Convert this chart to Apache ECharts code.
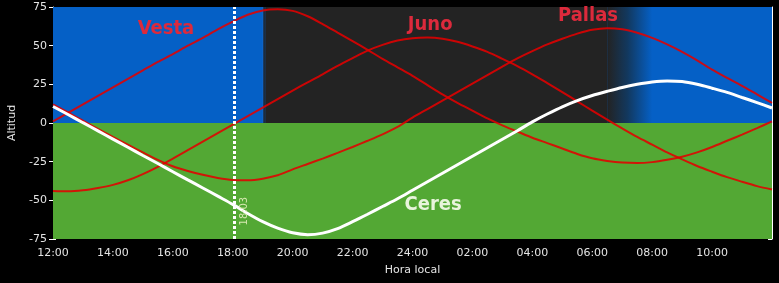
<!DOCTYPE html>
<html>
<head>
<meta charset="utf-8">
<script src="https://cdn.jsdelivr.net/npm/echarts@6/dist/echarts.min.js"></script>
<style>
html,body{margin:0;padding:0;background:#000;}
#chart{width:779px;height:283px;}
</style>
</head>
<body>
<div id="chart"></div>
<script>
// ---- data (hours after local noon; 24 = midnight), read every half hour ----
const hours  = [12,12.5,13,13.5,14,14.5,15,15.5,16,16.5,17,17.5,18,18.5,19,19.5,20,20.5,21,21.5,22,22.5,23,23.5,24,
                24.5,25,25.5,26,26.5,27,27.5,28,28.5,29,29.5,30,30.5,31,31.5,32,32.5,33,33.5,34,34.5,35,35.5,36];
const vesta  = [1,6.5,12,17.5,23,28.5,34,39.5,44.5,50,55,60.5,65.5,70,72.8,73.5,72.5,69,64,58.5,53,47.3,41.5,36,30.5,
                24.5,18.5,13,8,3,-1.5,-5.5,-9.5,-13,-16.5,-20,-22.8,-24.5,-25.6,-25.9,-25.3,-23.8,-21.8,-19,-15.5,-11.5,-7.5,-3.3,1];
const juno   = [-44,-44.2,-43.5,-42,-40,-37,-33,-28.3,-23,-17.5,-12,-6.5,-1,4.5,10,15.5,21,26.3,31.5,37,42,46.8,50.5,53.3,54.8,
                55.2,54.5,52.5,49.5,46,41.5,36.8,31.5,25.8,20,14,8,2.2,-3.5,-9,-14,-19,-23.5,-27.8,-31.5,-35,-38,-40.8,-43];
const pallas = [12,6.8,1.5,-3.8,-9,-14,-19,-23.8,-28,-31,-33.5,-35.5,-36.8,-37,-36,-33.8,-30,-26.5,-23,-19.3,-15.5,-11.5,-7.3,-2.5,3.5,
                9,14.5,20,25.5,31,36.5,41.8,46.5,50.8,54.5,57.8,60.3,61.3,60.6,58.3,55,50.8,46,40.5,34.5,29.2,24,18.5,13];
const ceres  = [10.7,5.5,0.2,-5.1,-10.4,-15.7,-21,-26.2,-31.5,-36.8,-42,-47.3,-52.6,-58.5,-63.8,-68,-71,-72.2,-71.2,-68.3,-63.8,-59,-54,-49,-43.5,
                -38,-32.5,-27,-21.5,-16,-10.5,-5,0.7,5.8,10.5,14.5,17.8,20.5,23,25,26.5,27.2,26.8,25,22.5,19.8,16.5,13.2,9.7];
const xTickLabels = ['12:00','14:00','16:00','18:00','20:00','22:00','24:00','02:00','04:00','06:00','08:00','10:00'];
const markerTime = 18.05;
const markerLabel = '18:03';
const duskStart = 19.0, nightStart = 19.1, nightEnd = 30.5, dawnEnd = 32.0;

const pairs = arr => hours.map((h, i) => [h, arr[i]]);

const BLUE = '#0560c6', GREEN = '#53a834', DARK = '#232323';
const RED = 'rgba(226,0,0,0.88)';
const TXT = '#e4e4e4';
const FONT = 'DejaVu Sans';
const NAMEFONT = "'DejaVu Sans Condensed', 'DejaVu Sans'";

const chart = echarts.init(document.getElementById('chart'), null, {renderer: 'canvas'});

function nameLabel(text, color) {
  return {
    show: true, formatter: text, position: 'inside', color: color,
    fontFamily: NAMEFONT, fontWeight: 'bold', fontSize: 20
  };
}

const redLine = (name, data, labelCoord) => ({
  name, type: 'line', data: pairs(data), smooth: 0.3, showSymbol: false, z: 3,
  lineStyle: {color: RED, width: 2},
  silent: true,
  markPoint: {
    silent: true, symbol: 'circle', symbolSize: 0,
    data: [{coord: labelCoord, label: nameLabel(name, '#dc2a3c')}]
  }
});

const option = {
  backgroundColor: '#000',
  animation: false,
  grid: {left: 53, right: 7, top: 7, bottom: 44, outerBoundsMode: 'none', containLabel: false},
  xAxis: [
    {
      type: 'value', min: 12, max: 36, interval: 2, position: 'bottom',
      axisLine: {lineStyle: {color: '#fff', width: 1}},
      axisTick: {inside: true, length: 6, lineStyle: {color: '#fff'}},
      minorTick: {show: true, splitNumber: 4, length: 3, lineStyle: {color: '#fff'}},
      splitLine: {show: false},
      axisLabel: {
        color: TXT, fontFamily: FONT, fontSize: 11, margin: 9, showMaxLabel: false,
        formatter: v => xTickLabels[Math.round((v - 12) / 2)] || ''
      },
      name: 'Hora local', nameLocation: 'middle', nameGap: 26,
      nameTextStyle: {color: TXT, fontFamily: FONT, fontSize: 11}
    },
    {
      type: 'value', min: 12, max: 36, interval: 2, position: 'top',
      axisLine: {lineStyle: {color: '#fff', width: 1}},
      axisTick: {inside: true, length: 6, lineStyle: {color: '#fff'}},
      minorTick: {show: true, splitNumber: 4, length: 3, lineStyle: {color: '#fff'}},
      splitLine: {show: false},
      axisLabel: {show: false}
    }
  ],
  yAxis: [
    {
      type: 'value', min: -75, max: 75, interval: 25, position: 'left',
      axisLine: {show: true, lineStyle: {color: '#fff', width: 1}},
      axisTick: {show: true, inside: false, length: 4, lineStyle: {color: '#fff'}},
      splitLine: {show: false},
      axisLabel: {color: TXT, fontFamily: FONT, fontSize: 11, margin: 6},
      name: 'Altitud', nameLocation: 'middle', nameGap: 35, nameRotate: 90,
      nameTextStyle: {color: TXT, fontFamily: FONT, fontSize: 11}
    },
    {
      type: 'value', min: -75, max: 75, interval: 25, position: 'left',
      axisLine: {show: false},
      axisTick: {show: true, inside: true, length: 3, lineStyle: {color: '#fff'}},
      minorTick: {show: true, splitNumber: 5, length: 3, lineStyle: {color: '#fff'}},
      splitLine: {show: false},
      axisLabel: {show: false}
    },
    {
      type: 'value', min: -75, max: 75, interval: 25, position: 'right',
      axisLine: {show: true, lineStyle: {color: '#fff', width: 1}},
      axisTick: {show: true, inside: true, length: 4, lineStyle: {color: '#fff'}},
      minorTick: {show: true, splitNumber: 5, length: 3, lineStyle: {color: '#fff'}},
      splitLine: {show: false},
      axisLabel: {show: false}
    }
  ],
  series: [
    {
      name: 'bg', type: 'line', data: [], z: 1, silent: true,
      markArea: {
        silent: true,
        data: [
          [{xAxis: 12, yAxis: -75, itemStyle: {color: GREEN}}, {xAxis: 36, yAxis: 0}],
          [{xAxis: 12, yAxis: 0, itemStyle: {color: BLUE}}, {xAxis: 36, yAxis: 75}],
          [{xAxis: duskStart, yAxis: 0, itemStyle: {color: {type: 'linear', x: 0, y: 0, x2: 1, y2: 0,
              colorStops: [{offset: 0, color: '#1f6ecc'}, {offset: 0.3, color: '#1a3350'}, {offset: 1, color: DARK}]}}},
           {xAxis: nightStart, yAxis: 75}],
          [{xAxis: nightStart, yAxis: 0, itemStyle: {color: DARK}}, {xAxis: nightEnd, yAxis: 75}],
          [{xAxis: nightEnd, yAxis: 0, itemStyle: {color: {type: 'linear', x: 0, y: 0, x2: 1, y2: 0,
              colorStops: [{offset: 0, color: DARK}, {offset: 0.45, color: '#12385e'}, {offset: 1, color: BLUE}]}}},
           {xAxis: dawnEnd, yAxis: 75}]
        ]
      }
    },
    redLine('Vesta', vesta, [15.77, 60.8]),
    redLine('Juno', juno, [24.59, 63.4]),
    redLine('Pallas', pallas, [29.86, 69.2]),
    {
      name: 'Ceres', type: 'line', data: pairs(ceres), smooth: 0.3, showSymbol: false, z: 4,
      silent: true,
      lineStyle: {color: '#ffffff', width: 3},
      markLine: {
        silent: true, symbol: 'none', label: {show: false},
        lineStyle: {color: '#ffffff', width: 3, type: [3, 2]},
        data: [{xAxis: markerTime}]
      },
      markPoint: {
        silent: true, symbol: 'circle', symbolSize: 0,
        data: [
          {coord: [24.69, -52.7], label: nameLabel('Ceres', '#e8f4dc')},
          {coord: [markerTime, -57], label: {
            show: true, formatter: markerLabel, position: 'inside', rotate: 90, offset: [0, 10],
            color: '#d6e8b0', fontFamily: NAMEFONT, fontSize: 11
          }}
        ]
      }
    }
  ]
};
chart.setOption(option);
</script>
</body>
</html>
